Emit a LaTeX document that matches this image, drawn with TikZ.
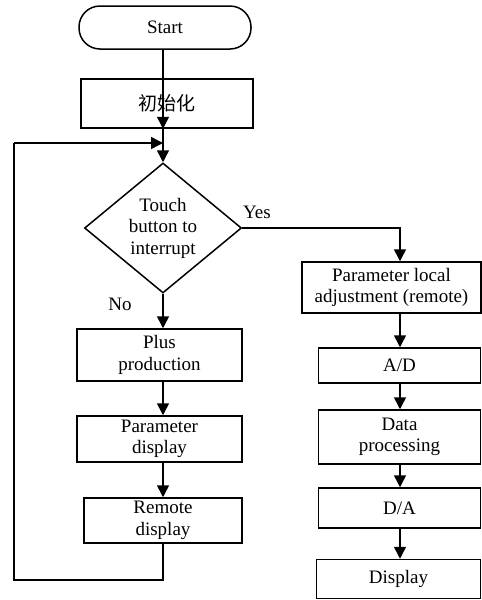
\documentclass[tikz,border=0pt]{standalone}
\usepackage{fontspec}
\setmainfont{Liberation Serif}
\newfontfamily\cjk{Noto Sans CJK SC}
\usetikzlibrary{shapes.geometric,arrows.meta}
\begin{document}
\begin{tikzpicture}[x=1pt,y=-1pt,
  every node/.style={font=\fontsize{19}{21.5}\selectfont},
  box/.style={draw,line width=1.5pt,inner sep=0pt,align=center},
  line/.style={line width=1.5pt},
  arr/.style={line width=1.5pt,-{Triangle[length=12pt,width=12pt]}}]
\useasboundingbox (0,0) rectangle (482,600);
% left column
\node[box,rounded corners=21pt,minimum width=172pt,minimum height=43pt] (start) at (165,27.5) {Start};
\node[box,minimum width=172pt,minimum height=49pt] (init) at (167,103.5) {\cjk 初始化};
\node[box,diamond,aspect=1.2,minimum width=157pt,minimum height=130pt] (d) at (163,228) {Touch\\button to\\interrupt};
\node[box,minimum width=165pt,minimum height=52pt] (plus) at (159.5,355) {Plus\\production};
\node[box,minimum width=165pt,minimum height=46pt] (pdisp) at (159.5,439) {Parameter\\display};
\node[box,minimum width=158pt,minimum height=45pt] (remote) at (163,520.5) {Remote\\display};
% right column
\node[box,minimum width=179pt,minimum height=51pt] (pl) at (391.5,287.5) {Parameter local\\adjustment (remote)};
\node[box,minimum width=162pt,minimum height=35pt] (ad) at (399.5,365.5) {A/D};
\node[box,minimum width=162pt,minimum height=54pt] (dp) at (399.5,437) {Data\\processing};
\node[box,minimum width=162pt,minimum height=40pt] (da) at (399.5,508) {D/A};
\node[box,minimum width=164pt,minimum height=39pt] (disp) at (398.5,579) {Display};
% labels
\node (yes) at (257,212) {Yes};
\node (no) at (120,304) {No};
% coordinates
\coordinate (rc) at (400,0);
\coordinate (lb) at (14,580);
\coordinate (lt) at (14,143);
% connectors
\draw[arr] (start.south -| d.north) -- (init.south -| d.north);
\draw[arr] (init.south -| d.north) -- (d.north);
\draw[arr] (d.south) -- (plus.north -| d.south);
\draw[arr] (plus.south -| d.south) -- (pdisp.north -| d.south);
\draw[arr] (pdisp.south -| d.south) -- (remote.north -| d.south);
\draw[line] (remote.south) |- (lb) -- (lt);
\draw[arr] (lt) -- (lt -| d.north);
\draw[arr] (d.east) -| (pl.north -| rc);
\draw[arr] (pl.south -| rc) -- (ad.north -| rc);
\draw[arr] (ad.south -| rc) -- (dp.north -| rc);
\draw[arr] (dp.south -| rc) -- (da.north -| rc);
\draw[arr] (da.south -| rc) -- (disp.north -| rc);
\end{tikzpicture}
\end{document}
